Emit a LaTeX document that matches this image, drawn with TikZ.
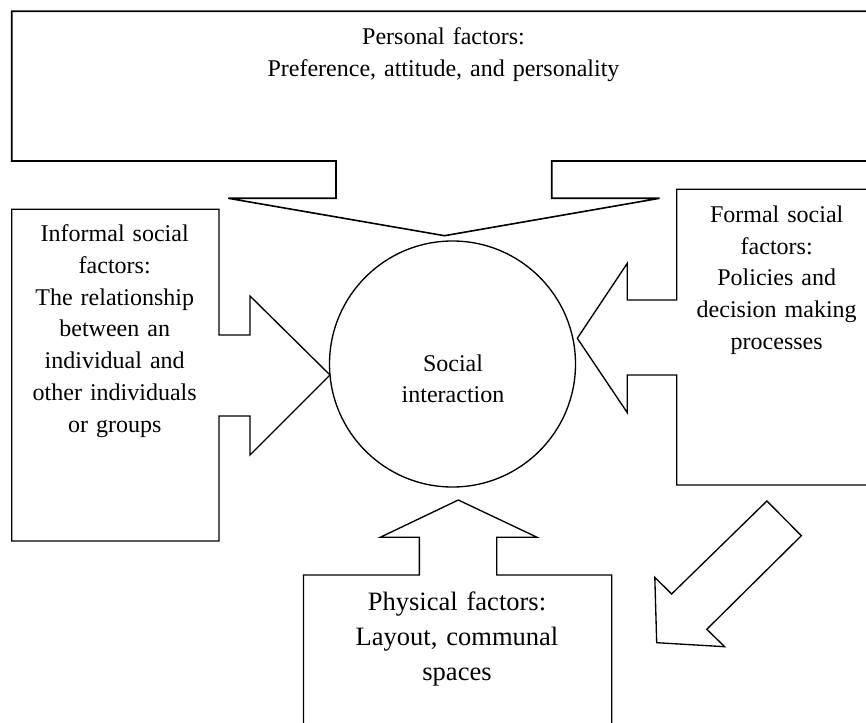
\documentclass[tikz,border=0pt]{standalone}
\usepackage{fontspec}
\setmainfont{Liberation Serif}
\begin{document}
\begin{tikzpicture}[x=0.75pt,y=-0.75pt,
  callout/.style={draw=black, line width=1pt, line join=miter, fill=white},
  lbl/.style={anchor=base, inner sep=0pt, align=center, font=\fontsize{18}{23.8}\selectfont},
  biglbl/.style={anchor=base, inner sep=0pt, align=center, font=\fontsize{19.9}{26.3}\selectfont}]
\useasboundingbox (0,0) rectangle (866,723);
\fill[white] (0,0) rectangle (866,723);
\begin{scope}
\clip (0,0) rectangle (866,723);
% top box (personal factors) with downward arrow
\draw[callout, line width=1.2pt] (11.7,11.3) -- (880,11.3) -- (880,161) -- (551.7,161) -- (551.7,198.3)
  -- (659.5,198.3) -- (444.5,235.7) -- (228.3,198.3) -- (336,198.3) -- (336,161) -- (11.7,161) -- cycle;
% left box (informal social factors) with right arrow
\draw[callout] (11.7,209.3) -- (219,209.3) -- (219,335) -- (250,335) -- (250,296) -- (330,375)
  -- (250,455) -- (250,416) -- (219,416) -- (219,541) -- (11.7,541) -- cycle;
% right box (formal social factors) with left arrow
\draw[callout] (676.7,189.3) -- (880,189.3) -- (880,485) -- (676.7,485) -- (676.7,375) -- (627.3,375)
  -- (627.3,412.7) -- (577.3,338.3) -- (627.3,263.3) -- (627.3,300) -- (676.7,300) -- cycle;
% bottom box (physical factors) with up arrow
\draw[callout] (303.5,740) -- (303.5,575) -- (419.4,575) -- (419.4,537.3) -- (380.2,537.3) -- (458.3,500)
  -- (537.1,537.3) -- (496.7,537.3) -- (496.7,575) -- (611.8,575) -- (611.8,740);
% circle
\node[draw=black, line width=1pt, circle, minimum size=184.5pt, inner sep=0pt] (si) at (452.5,364) {};
% diagonal arrow
\coordinate (dtail1) at (766.9,501);
\coordinate (dtail2) at (801.3,535.7);
\coordinate (dtip) at (656.7,642.7);
\draw[callout] (dtail1) -- (dtail2) -- (706.8,629.3) -- (724.7,646.7) -- (dtip) -- (654.8,577.3) -- (671.6,594) -- cycle;
% texts
\node[lbl, text width=300pt] (personal) at (443.5,44.3) {Personal factors:\\Preference, attitude, and personality};
\node[lbl, text width=140pt] (informal) at (114.7,241.7) {Informal social\\factors:\\The relationship\\between an\\individual and\\other individuals\\or groups};
\node[lbl, text width=140pt] (formal) at (776.7,222.3) {Formal social\\factors:\\Policies and\\decision making\\processes};
\node[lbl, text width=120pt] (sitext) at (453,371) {Social\\interaction};
\node[biglbl, text width=180pt] (physical) at (457,610) {Physical factors:\\Layout, communal\\spaces};
\end{scope}
\end{tikzpicture}
\end{document}
